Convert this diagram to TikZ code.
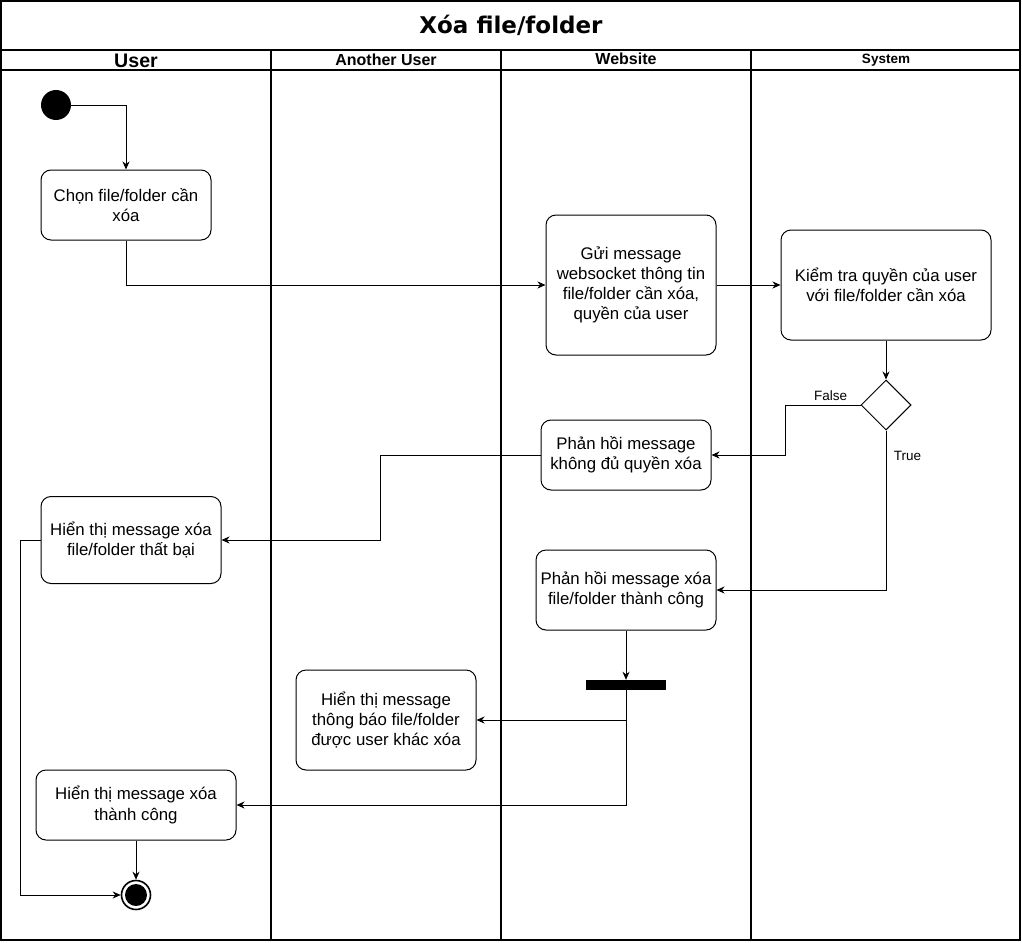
\documentclass[tikz,border=0pt]{standalone}
\usepackage{fontspec}
\setmainfont{Liberation Sans}
\newfontfamily\titlefont{DejaVu Sans}
\usetikzlibrary{arrows.meta,shapes.geometric}

\begin{document}
\begin{tikzpicture}[x=1pt,y=-1pt,
  act/.style={draw,line width=1pt,rounded corners=10pt,align=center,inner sep=0pt,
              font=\fontsize{16.8}{20.2}\selectfont},
  flow/.style={-{Stealth[length=8pt,width=7pt,inset=2.5pt]},line width=1pt},
  lane/.style={line width=1.8pt},
  hdr/.style={font=\bfseries\fontsize{16}{18}\selectfont}]
  \useasboundingbox (0,0) rectangle (1022,942);
  % frame and lanes
  \draw[lane] (1,1) rectangle (1020,940);
  \draw[lane] (1,50) -- (1020,50);
  \draw[lane] (1,70) -- (1020,70);
  \foreach \lx in {271,501,751}
    \draw[lane] (\lx,50) -- (\lx,940);
  \node[font=\titlefont\bfseries\fontsize{23}{26}\selectfont] (title) at (511,25) {Xóa file/folder};
  \node[hdr,font=\bfseries\fontsize{19.6}{21}\selectfont] (hUser) at (136,61) {User};
  \node[hdr] (hAnother) at (386,60) {Another User};
  \node[hdr] (hWeb) at (626,59) {Website};
  \node[hdr,font=\bfseries\fontsize{13.5}{15}\selectfont] (hSys) at (886,60) {System};

  % actions
  \node[circle,fill=black,minimum size=30pt,inner sep=0pt] (start) at (56,105) {};
  \node[act,minimum width=170pt,minimum height=70pt] (chon) at (126,205) {Chọn file/folder cần\\xóa};
  \node[act,minimum width=170pt,minimum height=140pt] (gui) at (631,285)
    {Gửi message\\websocket thông tin\\file/folder cần xóa,\\quyền của user};
  \node[act,minimum width=210pt,minimum height=110pt] (kiem) at (886,285)
    {Kiểm tra quyền của user\\với file/folder cần xóa};
  \node[diamond,draw,line width=1pt,minimum width=50pt,minimum height=50pt,inner sep=0pt] (dec) at (886,405) {};
  \node[act,minimum width=170pt,minimum height=70pt] (khong) at (626,455) {Phản hồi message\\không đủ quyền xóa};
  \node[act,minimum width=180pt,minimum height=87pt] (thatbai) at (131,540) {Hiển thị message xóa\\file/folder thất bại};
  \node[act,minimum width=180pt,minimum height=80pt] (tc) at (626,590) {Phản hồi message xóa\\file/folder thành công};
  \node[fill=black,minimum width=80pt,minimum height=10pt,inner sep=0pt] (bar) at (626,685) {};
  \node[act,minimum width=180pt,minimum height=100pt] (thongbao) at (386,720)
    {Hiển thị message\\thông báo file/folder\\được user khác xóa};
  \node[act,minimum width=200pt,minimum height=70pt] (ht) at (136,805) {Hiển thị message xóa\\thành công};
  \node[circle,draw,line width=1.6pt,minimum size=29pt,inner sep=0pt,
        path picture={\fill (path picture bounding box.center) circle (11pt);}] (final) at (136,895) {};

  % connectors
  \draw[flow] (start) -| (chon);
  \draw[flow] (chon) |- (gui);
  \draw[flow] (gui) -- (kiem);
  \draw[flow] (kiem) -- (dec);
  \draw[flow] (dec.west) -- ++(-75,0) node[pos=0.4,above=1pt,font=\fontsize{13.5}{15}\selectfont] (lFalse) {False} |- (khong.east);
  \draw[flow] (dec.south) |- (tc.east) node[pos=0.08,right=4pt,font=\fontsize{13.5}{15}\selectfont] (lTrue) {True};
  \draw[flow] (khong.west) -- ++(-160,0) |- (thatbai.east);
  \draw[flow] (thatbai.west) -- ++(-20,0) |- (final.west);
  \draw[flow] (tc) -- (bar);
  \draw[flow] (bar.south) |- (thongbao.east);
  \draw[flow] (bar.south) |- (ht.east);
  \draw[flow] (ht) -- (final);
\end{tikzpicture}
\end{document}
